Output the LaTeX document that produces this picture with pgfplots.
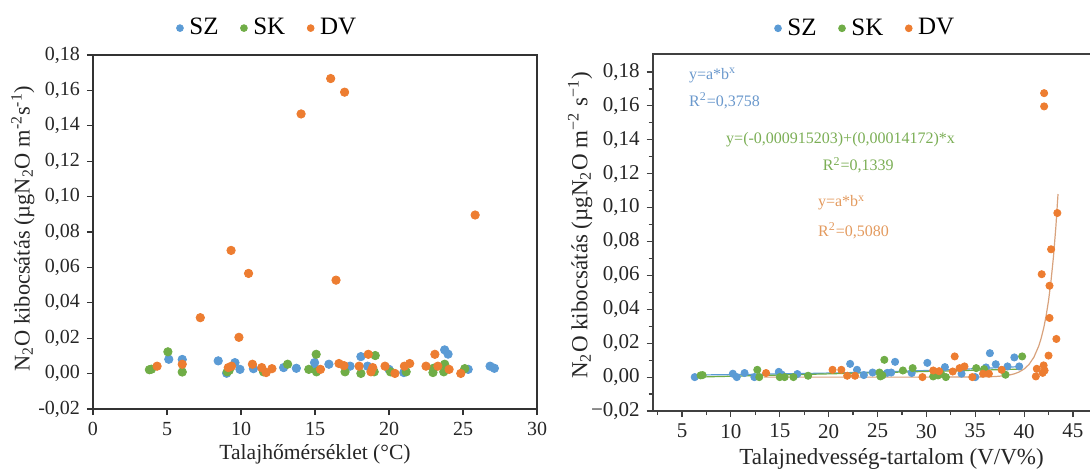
\documentclass[border=0pt]{standalone}
\usepackage{fontspec}
\setmainfont{Liberation Serif}
\usepackage{pgfplots}
\pgfplotsset{compat=1.18}
\definecolor{cSZ}{HTML}{5B9BD5}
\definecolor{cSK}{HTML}{70AD47}
\definecolor{cDV}{HTML}{ED7D31}
\definecolor{tSZ}{HTML}{6A98CC}
\definecolor{tSK}{HTML}{7BAE55}
\definecolor{tDV}{HTML}{E39A5E}
\definecolor{fDV}{HTML}{D8A27C}
\pgfplotsset{
  myaxis/.style={
    scale only axis, anchor=south west,
    /pgf/number format/assume math mode=true,
    tick align=outside, tick pos=left,
    legend columns=-1,
    legend image code/.code={\draw[##1, mark size=1.7pt] plot coordinates {(0pt,0pt)};},
    legend style={draw=none, fill=none, font=\rmfamily\fontsize{12.5}{14}\selectfont,
      /tikz/every odd column/.append style={column sep=1pt},
      /tikz/every even column/.append style={column sep=9pt}},
  }
}
\begin{document}
\rmfamily
\begin{tikzpicture}[x=1pt,y=1pt]
\path[use as bounding box, clip] (0,0) rectangle (545,236);
% ---------------- left ----------------
\begin{axis}[myaxis,
  at={(46.5pt,31.5pt)}, width=222pt, height=177pt,
  xmin=0, xmax=30, ymin=-0.02, ymax=0.18,
  xtick={0,5,10,15,20,25,30}, xticklabels={0,5,10,15,20,25,30},
  ytick={-0.02,0,0.02,0.04,0.06,0.08,0.10,0.12,0.14,0.16,0.18},
  yticklabels={{-0,02},{0,00},{0,02},{0,04},{0,06},{0,08},{0,10},{0,12},{0,14},{0,16},{0,18}},
  ticklabel style={font=\rmfamily\fontsize{10}{12}\selectfont, black!85},
  axis line style={black!80, line width=0.6pt},
  tick style={black!80, line width=0.6pt},
  major tick length=3pt,
  xlabel={Talajhőmérséklet (°C)},
  ylabel={N\textsubscript{2}O kibocsátás (µgN\textsubscript{2}O m\textsuperscript{-2}s\textsuperscript{-1})},
  every axis x label/.style={at={(axis description cs:0.5,-0.128)}, anchor=center,
    font=\rmfamily\fontsize{10.8}{12}\selectfont, text=black!85},
  every axis y label/.style={at={(axis description cs:-0.158,0.51)}, rotate=90, anchor=center,
    font=\rmfamily\fontsize{11.2}{12}\selectfont, text=black!85},
  legend style={at={(0.395,1.076)}, anchor=center},
]
\addplot[only marks, mark=*, mark size=2.1pt, color=cSZ] coordinates {
(5.12,0.0081) (6.03,0.0080) (8.46,0.0072) (9.03,0.0002) (9.59,0.0062) (9.93,0.0024)
(10.84,0.0028) (12.88,0.0034) (13.74,0.0030) (14.97,0.0062) (15.0,0.0030) (15.94,0.0053)
(17.37,0.0042) (18.1,0.0096) (18.55,0.0042) (18.9,0.0020) (20.0,0.0024) (21.0,0.0006)
(23.76,0.0134) (23.99,0.0110) (25.35,0.0024) (26.83,0.0042) (27.12,0.0030)
};
\addplot[only marks, mark=*, mark size=2.1pt, color=cSK] coordinates {
(3.81,0.0022) (3.95,0.0025) (5.06,0.0123) (6.03,0.0009) (9.07,0.0010) (9.2,0.0018)
(11.52,0.0010) (13.15,0.0053) (14.58,0.0024) (15.08,0.0109) (15.1,0.0010) (17.03,0.0010)
(18.1,0.0001) (19.07,0.0102) (19.0,0.0010) (20.1,0.0010) (21.16,0.0010) (22.97,0.0006)
(23.0,0.0030) (23.76,0.0053) (23.7,0.0010) (25.12,0.0028)
};
\addplot[only marks, mark=*, mark size=2.1pt, color=cDV] coordinates {
(4.33,0.0042) (6.03,0.0053) (7.25,0.0316) (9.14,0.0034) (9.36,0.0042) (9.33,0.0696)
(9.86,0.0205) (10.51,0.0566) (10.77,0.0053) (11.4,0.0034) (11.7,0.0006) (12.09,0.0028)
(14.06,0.1467) (15.37,0.0024) (16.06,0.1667) (16.62,0.0057) (16.96,0.0045) (17.0,0.1590)
(16.42,0.0528) (17.98,0.0042) (18.6,0.0109) (18.78,0.0010) (18.9,0.0034) (19.73,0.0042)
(20.4,0.0001) (21.04,0.0042) (21.4,0.0057) (22.5,0.0042) (23.1,0.0109) (23.3,0.0042)
(24.06,0.0024) (24.85,0.0001) (25.82,0.0896)
};
\legend{SZ,SK,DV}
\end{axis}
% ---------------- right ----------------
\begin{axis}[myaxis,
  at={(326.35pt,30.5pt)}, width=219.9pt, height=178.5pt,
  xmin=2, xmax=47, ymin=-0.02, ymax=0.1906,
  xtick={5,10,15,20,25,30,35,40,45}, xticklabels={5,10,15,20,25,30,35,40,45},
  minor xtick={2.5,7.5,12.5,17.5,22.5,27.5,32.5,37.5,42.5},
  ytick={-0.02,0,0.02,0.04,0.06,0.08,0.10,0.12,0.14,0.16,0.18},
  yticklabels={{−0,02},{0,00},{0,02},{0,04},{0,06},{0,08},{0,10},{0,12},{0,14},{0,16},{0,18}},
  minor ytick={-0.01,0.01,0.03,0.05,0.07,0.09,0.11,0.13,0.15,0.17},
  ticklabel style={font=\rmfamily\fontsize{10.5}{12}\selectfont, black!85},
  axis line style={black!75, line width=0.8pt},
  tick style={black!75, line width=0.6pt},
  major tick length=3pt, minor tick length=2pt,
  xlabel={Talajnedvesség-tartalom (V/V\%)},
  ylabel={N\textsubscript{2}O kibocsátás (µgN\textsubscript{2}O m\textsuperscript{−2} s\textsuperscript{−1})},
  every axis x label/.style={at={(axis description cs:0.543,-0.135)}, anchor=center,
    font=\rmfamily\fontsize{11.5}{13}\selectfont, text=black!85},
  every axis y label/.style={at={(axis description cs:-0.165,0.52)}, rotate=90, anchor=center,
    font=\rmfamily\fontsize{11.5}{13}\selectfont, text=black!85},
  legend style={at={(0.486,1.072)}, anchor=center},
]
\addplot[only marks, mark=*, mark size=1.8pt, color=cSZ] coordinates {
(6.3,0.0000) (10.2,0.0020) (10.6,0.0000) (11.4,0.0024) (12.4,0.0000) (14.9,0.0031)
(15.2,0.0015) (16.8,0.0018) (22.2,0.0078) (22.9,0.0043) (23.6,0.0012) (24.5,0.0027)
(26.0,0.0025) (26.4,0.0027) (26.8,0.0090) (28.5,0.0024) (30.1,0.0084) (31.9,0.0059)
(33.6,0.0020) (35.0,0.0000) (36.1,0.0057) (36.5,0.0141) (37.1,0.0076) (38.3,0.0063)
(39.0,0.0116) (39.5,0.0063)
};
\addplot[only marks, mark=*, mark size=1.8pt, color=cSK] coordinates {
(6.9,0.0010) (7.1,0.0012) (12.7,0.0043) (12.9,0.0000) (15.0,0.0000) (15.5,0.0000)
(16.4,0.0000) (17.9,0.0008) (25.2,0.0027) (25.3,0.0004) (25.7,0.0102) (25.5,0.0010)
(27.6,0.0039) (28.6,0.0053) (30.7,0.0004) (31.5,0.0020) (31.2,0.0010) (32.0,0.0000)
(35.1,0.0053) (35.9,0.0047) (38.1,0.0014) (39.8,0.0122)
};
\addplot[only marks, mark=*, mark size=1.8pt, color=cDV] coordinates {
(13.6,0.0024) (20.4,0.0043) (21.3,0.0043) (21.9,0.0008) (22.7,0.0008) (29.6,0.0000)
(30.7,0.0039) (31.3,0.0035) (32.7,0.0033) (32.9,0.0122) (33.4,0.0053) (33.9,0.0063)
(34.7,0.0000) (35.8,0.0020) (36.4,0.0020) (37.7,0.0043) (41.2,0.0004) (41.3,0.0049)
(41.8,0.0607) (42.0,0.0069) (42.1,0.0039) (41.9,0.0025) (42.5,0.0127) (42.6,0.0539)
(42.6,0.0349) (42.76,0.0754) (43.3,0.0225) (43.4,0.0968) (42.05,0.1675) (42.05,0.1597)
};
\legend{SZ,SK,DV}
\addplot[color=cSZ, line width=0.6pt, forget plot] coordinates {
(6.3,0.001224) (8,0.00133) (10,0.001466) (12,0.001616) (14,0.001782) (16,0.001965)
(18,0.002166) (20,0.002388) (22,0.002633) (24,0.002903) (26,0.003200) (28,0.003528)
(30,0.003890) (32,0.004288) (34,0.004728) (36,0.005213) (38,0.005747) (39.5,0.006182)
};
\addplot[color=cSK, line width=0.6pt, forget plot] coordinates {(6.7,0.0000345) (39.8,0.004725)};
\addplot[color=fDV, line width=0.6pt, forget plot] coordinates {
(13.4,0.0000) (25,0.0000) (30,0.0000) (33,0.00001) (35,0.00005) (36,0.00013) (37,0.00032)
(38,0.00079) (38.5,0.00123) (39,0.00193) (39.5,0.00303) (40,0.00476) (40.5,0.00746)
(41,0.0117) (41.5,0.01834) (41.75,0.0230) (42,0.02876) (42.25,0.03603) (42.5,0.04511)
(42.75,0.05649) (43,0.07075) (43.25,0.0886) (43.47,0.108)
};
\node[anchor=west, text=tSZ, font=\rmfamily\fontsize{8}{9}\selectfont] at (axis cs:5.0,0.178) {y=a*b\textsuperscript{x}};
\node[anchor=west, text=tSZ, font=\rmfamily\fontsize{8}{9}\selectfont] at (axis cs:5.0,0.163) {R\textsuperscript{2}=0,3758};
\node[anchor=west, text=tSK, font=\rmfamily\fontsize{8}{9}\selectfont] at (axis cs:8.8,0.140) {y=(-0,000915203)+(0,00014172)*x};
\node[anchor=west, text=tSK, font=\rmfamily\fontsize{8}{9}\selectfont] at (axis cs:18.7,0.125) {R\textsuperscript{2}=0,1339};
\node[anchor=west, text=tDV, font=\rmfamily\fontsize{8}{9}\selectfont] at (axis cs:18.2,0.1028) {y=a*b\textsuperscript{x}};
\node[anchor=west, text=tDV, font=\rmfamily\fontsize{8}{9}\selectfont] at (axis cs:18.2,0.0862) {R\textsuperscript{2}=0,5080};
\end{axis}
\end{tikzpicture}
\end{document}
